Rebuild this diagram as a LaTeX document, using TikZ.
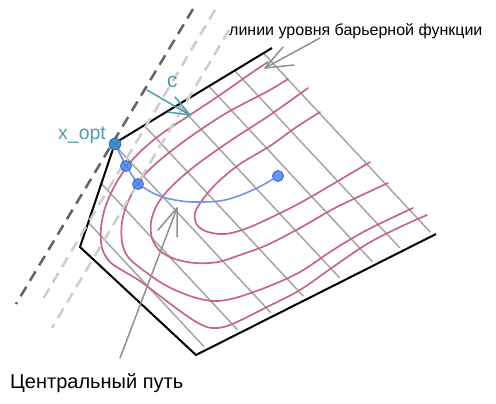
\documentclass[tikz,border=0pt]{standalone}
\usepackage{fontspec}
\setmainfont{Liberation Sans}
\usetikzlibrary{arrows.meta}
\definecolor{tealc}{RGB}{80,158,170}
\definecolor{redc}{RGB}{200,100,132}
\definecolor{gridc}{RGB}{165,165,165}
\definecolor{arrowc}{RGB}{140,145,150}
\definecolor{darkdash}{RGB}{100,100,100}
\definecolor{lightdash}{RGB}{205,205,205}
\definecolor{bluec}{RGB}{120,145,230}
\definecolor{dotfill}{RGB}{100,150,235}
\definecolor{dotline}{RGB}{60,110,220}
\definecolor{optfill}{RGB}{70,145,205}
\definecolor{optline}{RGB}{45,115,180}
\tikzset{
  gridline/.style={draw=gridc, line width=1.5pt},
  level/.style={draw=redc, line width=1.7pt, line cap=round},
  border/.style={draw=black, line width=2pt},
  darkdashed/.style={draw=darkdash, line width=2.5pt, dash pattern=on 11pt off 7pt},
  lightdashed/.style={draw=lightdash, line width=2.5pt, dash pattern=on 11pt off 7pt},
  pathline/.style={draw=bluec, line width=1.6pt},
  bdot/.style={circle, fill=dotfill, draw=dotline, line width=0.9pt, inner sep=0pt, minimum size=11pt},
  odot/.style={circle, fill=optfill, draw=optline, line width=0.9pt, inner sep=0pt, minimum size=11.5pt},
  greyarrow/.style={draw=arrowc, line width=1.5pt, line cap=round, line join=round},
  tealarrow/.style={draw=tealc, line width=1.5pt, line cap=round, line join=round},
  lbl/.style={inner sep=0pt, anchor=base west}
}
\begin{document}
\begin{tikzpicture}[x=1pt,y=-1pt]
\useasboundingbox (0,0) rectangle (496,404);

% grid of grey lines
\begin{scope}
\clip (272,48) -- (115,143) -- (80,247) -- (192.9,352.1) -- (434.2,230.4) -- cycle;
\foreach \p in {156.5,123.5,94,59,20,-15,-51,-87}
  \draw[gridline] ({\p*0.732},{-\p*0.682}) -- ({\p*0.732+600*0.682},{-\p*0.682+600*0.732});
\end{scope}

% level lines of the barrier function
\draw[level] plot[smooth, tension=0.55] coordinates {(320,112) (295,128) (270,146) (240,164) (218,182) (203,199) (195,213) (197,225) (208,232) (225,234) (245,229) (270,218) (300,203) (333,184) (370,162)};
\draw[level] plot[smooth, tension=0.55] coordinates {(308,88) (270,115) (230,141) (195,166) (170,188) (157,205) (151,222) (152,238) (160,251) (175,259) (195,263) (218,262) (240,255) (267,245) (300,228) (333,209) (360,196) (388,183)};
\draw[level] plot[smooth, tension=0.55] coordinates {(288,79) (270,90) (245,103) (223,115) (190,137) (160,160) (140,180) (128,202) (122,222) (122,242) (128,257) (143,270) (165,285) (190,296) (213,301) (235,298) (267,287) (300,272) (333,250) (367,230) (413,208)};
\draw[level] plot[smooth, tension=0.55] coordinates {(268,62) (250,74) (220,95) (190,115) (160,135) (135,157) (118,180) (106,205) (101,228) (102,248) (110,262) (125,272) (140,281) (160,296) (180,311) (198,323) (212,328) (230,325) (267,307) (300,290) (333,267) (367,244) (400,227) (427,215)};

% feasible set border
\draw[border, line join=miter] (272,48) -- (115,143) -- (80,247) -- (196,355) -- (436,234);

% objective level lines
\draw[darkdashed] (193,9) -- (16,304);
\draw[lightdashed] (215,10) -- (40,304);
\draw[lightdashed] (229,30) -- (52,328);

% central path
\draw[pathline] (115,144) -- (126,166) -- (138,184);
\draw[pathline] plot[smooth, tension=0.6] coordinates {(138,184) (157,195) (175,200) (195,202) (225,200) (255,189) (278,176)};
\node[odot] (xopt) at (115,144) {};
\node[bdot] (p2) at (126,166) {};
\node[bdot] (p3) at (138,184) {};
\node[bdot] (center) at (278,176) {};
\foreach \n/\c in {xopt/optline,p2/dotline,p3/dotline}{
  \draw[\c, line width=0.6pt] (\n.45) -- (\n.225) (\n.135) -- (\n.315);
}

% labels
\node[lbl, text=tealc, font=\fontsize{19.5}{23}\selectfont] (xlab) at (58,139.5) {x\_opt};
\node[lbl, text=tealc, font=\fontsize{21}{25}\selectfont] (clab) at (167,88) {c};
\node[lbl, font=\fontsize{16}{19}\selectfont] (lvl) at (229,36) {линии уровня барьерной функции};
\node[lbl, font=\fontsize{20}{24}\selectfont] (cpath) at (10,388) {Центральный путь};

% arrow c
\coordinate (cs) at (147,90);
\coordinate (ct) at (190,115);
\coordinate (cw1) at (175,97);
\coordinate (cw2) at (168,112);
\draw[tealarrow] (cs) -- (ct);
\draw[tealarrow] (cw1) -- (ct) -- (cw2);
% arrow to level lines
\coordinate (ls) at (320,38);
\coordinate (lt) at (265,68);
\coordinate (lw1) at (283,47);
\coordinate (lw2) at (294,65);
\draw[greyarrow] (ls) -- (lt);
\draw[greyarrow] (lw1) -- (lt) -- (lw2);
% arrow to central path
\coordinate (ps) at (120,358);
\coordinate (pt) at (177,208);
\coordinate (pw1) at (158,230);
\coordinate (pw2) at (177,237);
\draw[greyarrow] (ps) -- (pt);
\draw[greyarrow] (pw1) -- (pt) -- (pw2);
\end{tikzpicture}
\end{document}
